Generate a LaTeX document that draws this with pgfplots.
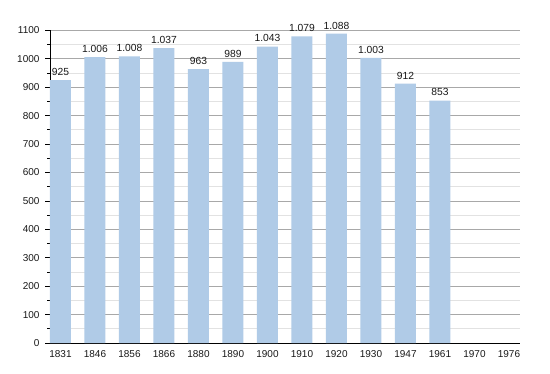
\documentclass[border=0pt]{standalone}
\usepackage{pgfplots}
\pgfplotsset{compat=1.18}
\usepackage{fontspec}
\setmainfont{Liberation Sans}
\definecolor{barblue}{HTML}{B0CBE7}
\definecolor{majgrid}{HTML}{A8A8A8}
\definecolor{mingrid}{HTML}{E2E2E2}
\begin{document}
\begin{tikzpicture}[x=1pt,y=1pt]
\path[use as bounding box, fill=white] (0,0) rectangle (550,373);
\begin{axis}[
  at={(50pt,30pt)}, anchor=south west,
  scale only axis, width=470pt, height=312.7pt,
  xmin=-0.304, xmax=13.32,
  ymin=0, ymax=1100,
  axis x line=bottom, axis y line=left,
  axis line style={-, black, line width=0.9pt},
  xtick={0,...,13},
  xticklabels={1831,1846,1856,1866,1880,1890,1900,1910,1920,1930,1947,1961,1970,1976},
  x tick style={draw=none},
  ytick={0,100,...,1100},
  minor y tick num=1,
  y tick style={black, line width=0.6pt},
  major tick length=5pt, minor tick length=3pt,
  tick align=outside,
  ymajorgrids, yminorgrids,
  major grid style={majgrid, line width=0.7pt},
  minor grid style={mingrid, line width=0.6pt},
  tick label style={font=\fontsize{10}{12}\selectfont, text=black!90},
  yticklabel style={xshift=-2pt},
  xticklabel style={yshift=1pt},
  /pgf/number format/assume math mode=true,
  scaled y ticks=false,
  yticklabel={\pgfmathprintnumber[1000 sep={}]{\tick}},
  ybar, bar width=21pt,
  clip=false,
  point meta=explicit symbolic,
  nodes near coords,
  nodes near coords style={font=\fontsize{10.3}{12}\selectfont, text=black!90, yshift=1pt},
]
\addplot[fill=barblue, draw=none] coordinates {
  (0,925) [925]
  (1,1006) [1.006]
  (2,1008) [1.008]
  (3,1037) [1.037]
  (4,963) [963]
  (5,989) [989]
  (6,1043) [1.043]
  (7,1079) [1.079]
  (8,1088) [1.088]
  (9,1003) [1.003]
  (10,912) [912]
  (11,853) [853]
};
\end{axis}
\end{tikzpicture}
\end{document}
